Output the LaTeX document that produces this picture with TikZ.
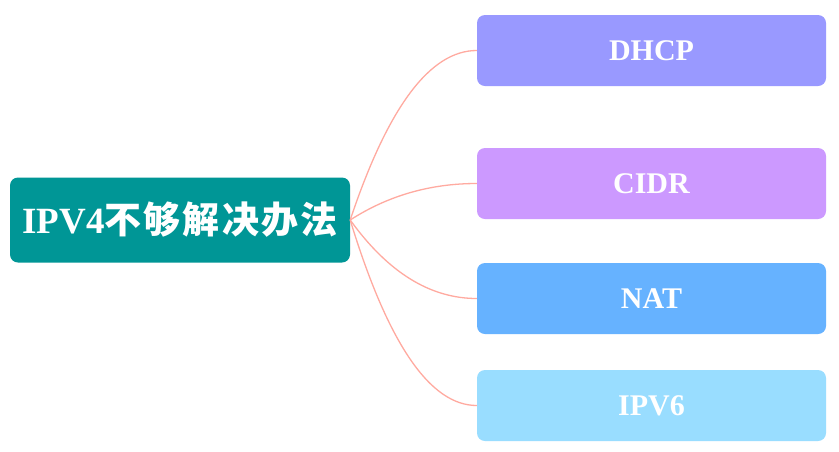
\documentclass[tikz,border=0pt]{standalone}
\usepackage{fontspec}
\setmainfont{Liberation Serif}
\newfontfamily\cjk[LetterSpace=6]{Noto Sans CJK SC}
\usetikzlibrary{calc}
\definecolor{rootfill}{RGB}{0,150,150}
\definecolor{dhcpfill}{RGB}{153,153,255}
\definecolor{cidrfill}{RGB}{204,153,255}
\definecolor{natfill}{RGB}{102,178,255}
\definecolor{ipvsixfill}{RGB}{153,221,255}
\definecolor{linkcol}{RGB}{255,170,160}
\begin{document}
\begin{tikzpicture}[x=1pt,y=-1pt,
  rootbox/.style={rectangle, rounded corners=8pt, fill=rootfill, text=white,
    minimum width=340pt, minimum height=85pt, inner sep=0pt,
    font=\fontsize{37}{42}\selectfont\bfseries},
  leafbox/.style={rectangle, rounded corners=8pt, text=white,
    minimum width=349pt, minimum height=71pt, inner sep=0pt,
    font=\fontsize{30}{36}\selectfont\bfseries},
  link/.style={draw=linkcol, line width=1.3pt}]
\useasboundingbox (0,0) rectangle (839,451);
\fill[white] (0,0) rectangle (839,451);

\node[rootbox] (root) at (180,220) {IPV4{\cjk 不够解决办法}};

\node[leafbox, fill=dhcpfill]   (dhcp) at (651.5,50.5)  {DHCP};
\node[leafbox, fill=cidrfill]   (cidr) at (651.5,183.5) {CIDR};
\node[leafbox, fill=natfill]    (nat)  at (651.5,298.5) {NAT};
\node[leafbox, fill=ipvsixfill] (ipv6) at (651.5,405.5) {IPV6};

% quadratic branches: one control point left of each leaf
\foreach \leaf in {dhcp,cidr,nat,ipv6}{
  \coordinate (c-\leaf) at ($(\leaf.west)+(-70,0)$);
  \draw[link] (root.east)
    .. controls ($(root.east)!0.667!(c-\leaf)$) and ($(\leaf.west)!0.667!(c-\leaf)$)
    .. (\leaf.west);
}
\end{tikzpicture}
\end{document}
